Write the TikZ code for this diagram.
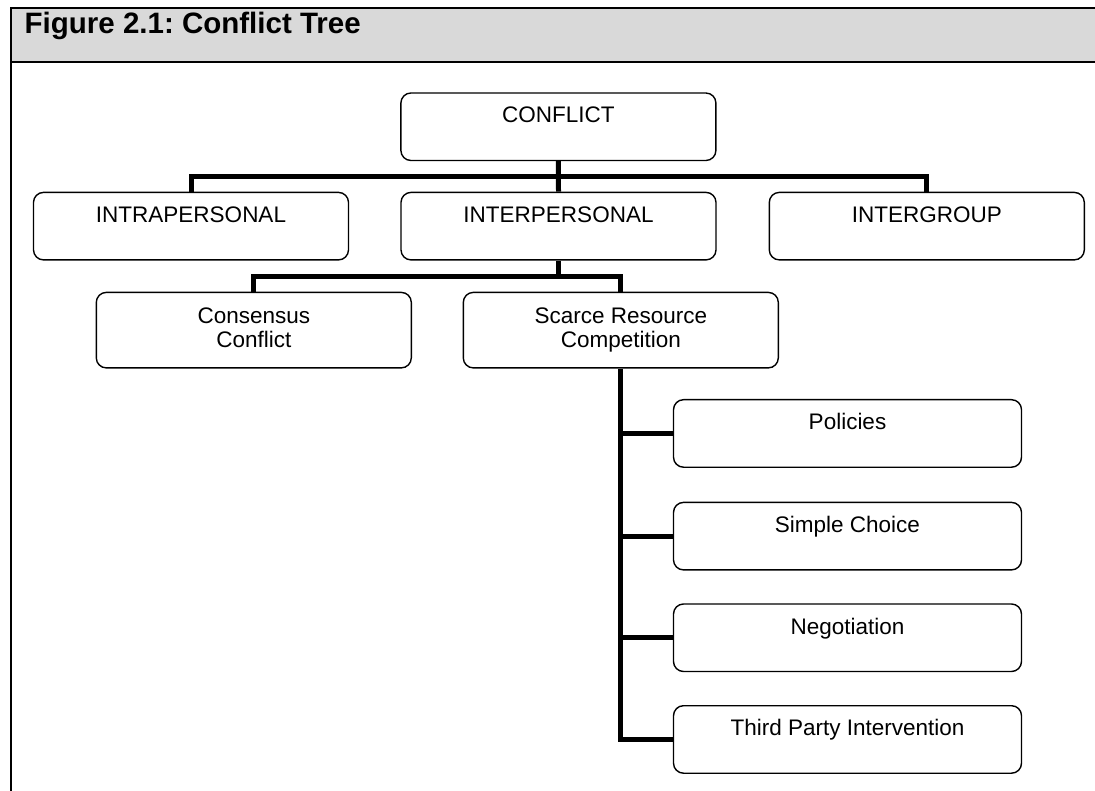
\documentclass[tikz,border=0pt]{standalone}
\usepackage{fontspec}
\setmainfont{Liberation Sans}
\usetikzlibrary{calc}
\definecolor{headgray}{RGB}{217,217,217}
\frenchspacing

\begin{document}
\begin{tikzpicture}[x=1pt,y=-1pt,
    box/.style={draw,line width=1.4pt,rounded corners=10pt,anchor=north,
      minimum width=315pt,inner xsep=0pt,inner ysep=0pt,align=center,
      text height=30pt,text depth=37.5pt,font=\fontsize{22.5}{24}\selectfont},
    twoline/.style={text height=55.5pt,text depth=20pt},
    widebox/.style={minimum width=348pt},
    link/.style={line width=5pt}]
  \useasboundingbox (0,0) rectangle (1095,791);
  % header of the figure
  \fill[headgray] (11,8) rectangle (1095,62);
  \draw[line width=2pt] (1095,8) -- (11,8) -- (11,791);
  \draw[line width=2pt] (11,62) -- (1095,62);
  \node[anchor=base west,inner sep=0pt,font=\fontsize{29.5}{34}\selectfont\bfseries] (title) at (24.5,34) {Figure 2.1: Conflict Tree};
  % boxes
  \node[box] (conflict) at (558.4,92.3) {CONFLICT};
  \node[box] (intra) at (191,191.7) {INTRAPERSONAL};
  \node[box] (inter) at (558.5,191.7) {INTERPERSONAL};
  \node[box] (group) at (926.8,191.7) {INTERGROUP};
  \node[box,twoline] (consensus) at (253.8,291.7) {Consensus\\Conflict};
  \node[box,twoline] (scarce) at (620.8,291.7) {Scarce Resource\\Competition};
  \node[box,widebox] (policies) at (847.5,399) {Policies};
  \node[box,widebox] (simple) at (847.5,501.7) {Simple Choice};
  \node[box,widebox] (nego) at (847.5,603.3) {Negotiation};
  \node[box,widebox] (third) at (847.5,705) {Third Party Intervention};
  % connectors
  \coordinate (bar1) at ($(conflict.south)!.5!(inter.north)$);
  \coordinate (bar2) at ($(inter.south)!.5!(inter.south |- consensus.north)$);
  \draw[link] (conflict.south) -- (inter.north);
  \draw[link] (intra.north) |- (bar1) -| (group.north);
  \draw[link] (inter.south) -- (bar2);
  \draw[link] (consensus.north) |- (bar2) -| (scarce.north);
  \draw[link] (scarce.south) |- (third.west);
  \draw[link] (scarce.south |- policies.west) -- (policies.west);
  \draw[link] (scarce.south |- simple.west) -- (simple.west);
  \draw[link] (scarce.south |- nego.west) -- (nego.west);
\end{tikzpicture}
\end{document}
